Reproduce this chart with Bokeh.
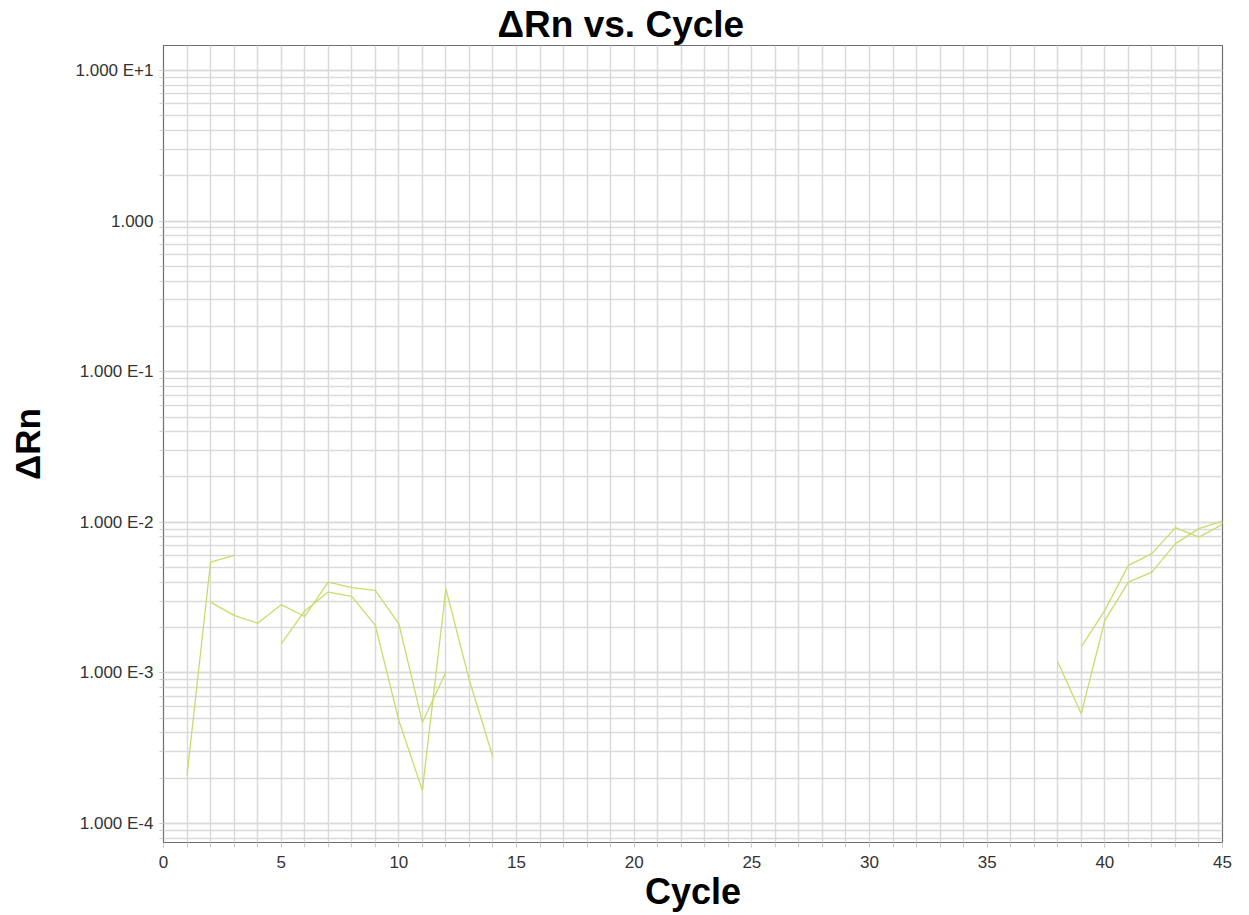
from bokeh.plotting import figure
from bokeh.models import FixedTicker, Range1d
from bokeh.embed import file_html
from bokeh.resources import INLINE

# ---- data ----
cycles_a = [1, 2, 3]
drn_a = [2.08e-4, 5.45e-3, 6.04e-3]

cycles_b = [2, 3, 4, 5, 6, 7, 8, 9, 10, 11, 12]
drn_b = [2.95e-3, 2.41e-3, 2.14e-3, 2.84e-3, 2.37e-3, 4.01e-3, 3.68e-3, 3.53e-3, 2.12e-3, 4.71e-4, 1.01e-3]

cycles_c = [5, 6, 7, 8, 9, 10, 11, 12, 13, 14]
drn_c = [1.56e-3, 2.58e-3, 3.44e-3, 3.22e-3, 2.07e-3, 4.83e-4, 1.66e-4, 3.62e-3, 8.9e-4, 2.76e-4]

cycles_d = [38, 39, 40, 41, 42, 43, 44, 45]
drn_d = [1.18e-3, 5.36e-4, 2.23e-3, 4.01e-3, 4.67e-3, 7.22e-3, 9.08e-3, 1.02e-2]

cycles_e = [39, 40, 41, 42, 43, 44, 45]
drn_e = [1.49e-3, 2.6e-3, 5.18e-3, 6.19e-3, 9.22e-3, 7.98e-3, 9.7e-3]

x_ticks = [0, 5, 10, 15, 20, 25, 30, 35, 40, 45]
y_exponents = [-4, -3, -2, -1, 0, 1]
y_labels = ["1.000 E-4", "1.000 E-3", "1.000 E-2", "1.000 E-1", "1.000", "1.000 E+1"]

FONT = "Liberation Sans"
LINE_COLOR = "#cbdb6a"
GRID_COLOR = "#dadada"

y_major = [10.0 ** e for e in y_exponents]
y_minor = [k * 10.0 ** e for e in range(-5, 2) for k in range(1, 10)]

p = figure(width=1240, height=915, y_axis_type="log",
           x_range=Range1d(0, 45), y_range=Range1d(10 ** -4.126, 10 ** 1.166),
           output_backend="svg", toolbar_location=None,
           min_border_left=163, min_border_right=18, min_border_top=45, min_border_bottom=73)

for xs, ys in [(cycles_a, drn_a), (cycles_b, drn_b), (cycles_c, drn_c), (cycles_d, drn_d), (cycles_e, drn_e)]:
    p.line(xs, ys, line_color=LINE_COLOR, line_width=1.3)

p.title.text = "\u0394Rn vs. Cycle"
p.title.text_font = FONT
p.title.text_font_size = "37px"
p.title.text_font_style = "bold"
p.title.text_color = "#000000"
p.title.align = "left"
p.title.offset = 334
p.title.standoff = 2

p.outline_line_color = "#6e6e6e"
p.outline_line_width = 1.2
p.background_fill_color = "white"
p.border_fill_color = "white"

# x axis
xa = p.xaxis[0]
xa.ticker = FixedTicker(ticks=x_ticks, minor_ticks=list(range(0, 46)))
xa.axis_label = "Cycle"
xa.axis_label_text_font = FONT
xa.axis_label_text_font_size = "36px"
xa.axis_label_text_font_style = "bold"
xa.axis_label_text_color = "#000000"
xa.axis_label_standoff = 0
xa.major_label_text_font = FONT
xa.major_label_text_font_size = "17px"
xa.major_label_text_color = "#333333"
xa.major_label_standoff = 8
xa.axis_line_color = "#6e6e6e"
xa.major_tick_line_color = "#bbbbbb"
xa.minor_tick_line_color = "#cccccc"
xa.major_tick_out = 5
xa.major_tick_in = 0
xa.minor_tick_out = 5
xa.minor_tick_in = 0

# y axis
ya = p.yaxis[0]
ya.ticker = FixedTicker(ticks=y_major, minor_ticks=y_minor)
ya.major_label_overrides = {v: lab for v, lab in zip(y_major, y_labels)}
ya.axis_label = "\u0394Rn"
ya.axis_label_text_font = FONT
ya.axis_label_text_font_size = "35px"
ya.axis_label_text_font_style = "bold"
ya.axis_label_text_color = "#000000"
ya.axis_label_standoff = 26
ya.major_label_text_font = FONT
ya.major_label_text_font_size = "17px"
ya.major_label_text_color = "#333333"
ya.major_label_standoff = 6
ya.axis_line_color = "#6e6e6e"
ya.major_tick_line_color = "#bbbbbb"
ya.minor_tick_line_color = "#cccccc"
ya.major_tick_out = 4
ya.major_tick_in = 0
ya.minor_tick_out = 4
ya.minor_tick_in = 0

# grids
p.xgrid.ticker = FixedTicker(ticks=list(range(0, 46)))
p.xgrid.grid_line_color = GRID_COLOR
p.xgrid.grid_line_width = 1.5
p.ygrid.ticker = FixedTicker(ticks=y_major, minor_ticks=y_minor)
p.ygrid.grid_line_color = GRID_COLOR
p.ygrid.grid_line_width = 1.5
p.ygrid.minor_grid_line_color = GRID_COLOR
p.ygrid.minor_grid_line_width = 1.5

open("out.html", "w").write(file_html(p, INLINE))
